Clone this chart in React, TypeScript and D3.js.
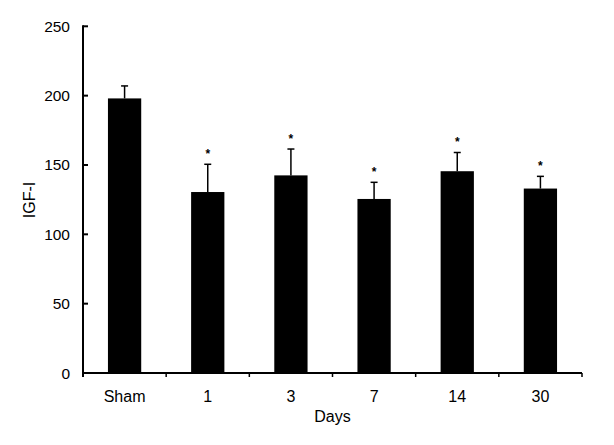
import React from "react";
import * as d3 from "d3";

const categories = ["Sham", "1", "3", "7", "14", "30"];
const means = [198, 130.5, 142.5, 125.5, 145.5, 133];
const errors = [9, 20, 19, 12, 13.5, 8.8];
const significant = [false, true, true, true, true, true];
const yTicks = [0, 50, 100, 150, 200, 250];

const W = 614;
const H = 445;
const left = 83;
const right = 582;
const top = 26.3;
const bottom = 373;
const FONT = "'Liberation Sans', Arial, sans-serif";

export default function App() {
  const x = d3.scaleBand<string>().domain(categories).range([left, right]).paddingInner(0.6).paddingOuter(0.3);
  const xb = d3.scaleBand<string>().domain(categories).range([left, right]).padding(0);
  const y = d3.scaleLinear().domain([0, 250]).range([bottom, top]);
  const bw = x.bandwidth();
  const boundaries = categories.map((c) => (xb(c) as number) + xb.bandwidth());

  return (
    <svg width={W} height={H} style={{ position: "absolute", left: 0, top: 0, background: "#fff" }} fontFamily={FONT}>
      <rect x={0} y={0} width={W} height={H} fill="#fff" />
      {categories.map((c, i) => {
        const cx = (x(c) as number) + bw / 2;
        const et = y(means[i] + errors[i]);
        return (
          <g key={c}>
            <rect x={x(c)} y={y(means[i])} width={bw} height={bottom - y(means[i])} fill="#000" />
            <line x1={cx} x2={cx} y1={y(means[i])} y2={et} stroke="#000" strokeWidth={1.5} />
            <line x1={cx - 3.5} x2={cx + 3.5} y1={et} y2={et} stroke="#000" strokeWidth={1.5} />
            {significant[i] && (
              <text x={cx} y={et - 6} textAnchor="middle" fontSize={12} fontWeight="bold">*</text>
            )}
          </g>
        );
      })}
      {/* y axis */}
      <line x1={left} x2={left} y1={top - 1} y2={bottom + 4} stroke="#000" strokeWidth={2} />
      {yTicks.map((t) => (
        <g key={t}>
          <line x1={left} x2={left + 5} y1={y(t)} y2={y(t)} stroke="#000" strokeWidth={2} />
          <text x={70} y={y(t) + 5.5} textAnchor="end" fontSize={15.5}>{t}</text>
        </g>
      ))}
      {/* x axis */}
      <line x1={left} x2={right} y1={bottom} y2={bottom} stroke="#000" strokeWidth={2} />
      {boundaries.map((b, i) => (
        <line key={i} x1={b} x2={b} y1={bottom} y2={bottom + 4} stroke="#000" strokeWidth={1.5} />
      ))}
      {categories.map((c) => (
        <text key={c} x={(x(c) as number) + bw / 2} y={402} textAnchor="middle" fontSize={16}>{c}</text>
      ))}
      <text x={(left + right) / 2} y={422} textAnchor="middle" fontSize={16}>Days</text>
      <text transform={`translate(35,200) rotate(-90)`} textAnchor="middle" fontSize={16}>IGF-I</text>
    </svg>
  );
}
